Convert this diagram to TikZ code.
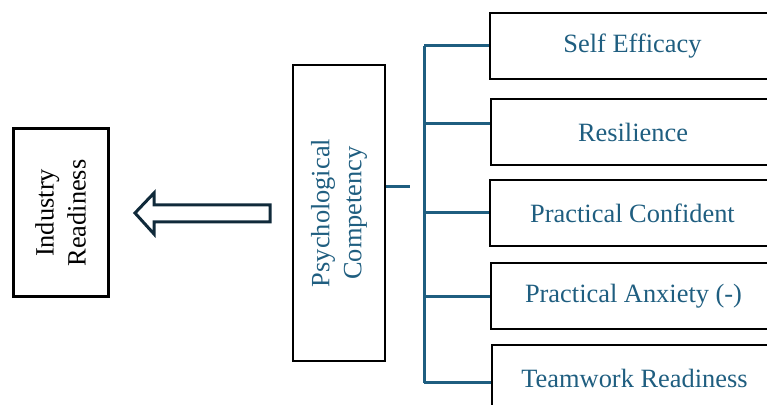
\documentclass[tikz,border=0pt]{standalone}
\usepackage{fontspec}
\setmainfont{Liberation Serif}
\usepackage{tikz}
\usetikzlibrary{arrows.meta}

\definecolor{teal}{RGB}{31,94,128}
\definecolor{navy}{RGB}{16,42,58}

\begin{document}
\begin{tikzpicture}[x=0.5pt, y=-0.5pt,
    every node/.style={font=\fontsize{13.2}{16}\selectfont},
    dimbox/.style={draw, line width=1pt, minimum width=142.5pt, minimum height=33pt, text=teal},
    link/.style={draw=teal, line width=1.5pt}]
    \clip (0,0) rectangle (767,405);

    \node[draw, line width=1.5pt, minimum width=84pt, minimum height=47.5pt, rotate=90, align=center] (IR) at (60.5,213){Industry\\Readiness};
    \node[draw, line width=1pt, minimum width=148pt, minimum height=46pt, rotate=90, align=center, text=teal] (PC) at (339,213){Psychological\\Competency};

    \node[dimbox] (SE) at (632.5,46){Self Efficacy};
    \node[dimbox] (RS) at (633,132){Resilience};
    \node[dimbox] (CF) at (632.5,213){Practical Confident};
    \node[dimbox] (AX) at (633.5,296){Practical Anxiety (-)};
    \node[dimbox] (TW) at (634.5,378){Teamwork Readiness};

    % hollow arrow towards industry readiness
    \draw[navy, line width=1.5pt, line join=miter]
        (270,205) -- (154,205) -- (154,193) -- (135,213) -- (154,234) -- (154,222) -- (270,222) -- cycle;

    % tree
    \coordinate (stub) at (410,187);
    \coordinate (top) at (424,46);
    \coordinate (bot) at (424,383);
    \coordinate (b2) at (424,124);
    \coordinate (b3) at (424,213);
    \coordinate (b4) at (424,297);
    \draw[link] (PC.south |- stub) -- (stub);
    \draw[link] (top) -- (bot);
    \draw[link] (top) -- (top -| SE.west);
    \draw[link] (b2) -- (b2 -| RS.west);
    \draw[link] (b3) -- (b3 -| CF.west);
    \draw[link] (b4) -- (b4 -| AX.west);
    \draw[link] (bot) -- (bot -| TW.west);
\end{tikzpicture}
\end{document}
